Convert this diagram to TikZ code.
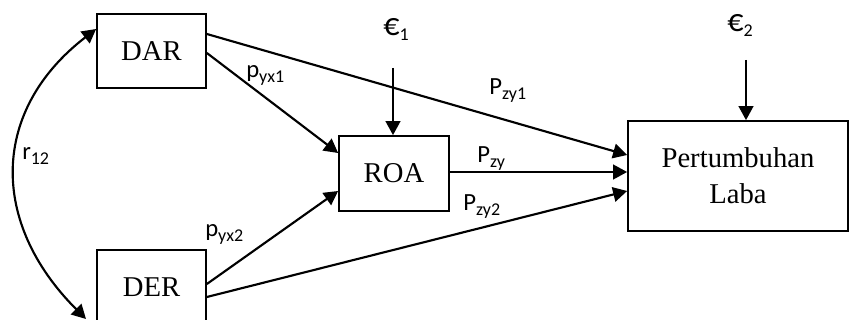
\documentclass[tikz,border=0pt]{standalone}
\usepackage{fontspec}
\setmainfont{Liberation Serif}
\newfontfamily\lblfont{Carlito}
\usetikzlibrary{arrows.meta,calc}
\newcommand{\lsub}[1]{\raisebox{-0.2em}{\fontsize{13.5}{13.5}\selectfont #1}}
\newcommand{\euro}{\scalebox{1.3}{€}}
\tikzset{
  box/.style={draw, line width=1.3pt, rectangle, inner sep=0pt, font=\fontsize{21.5}{27}\selectfont, align=center},
  conn/.style={line width=1.6pt, -{Triangle[length=10.5pt,width=11pt]}},
  lbl/.style={font=\lblfont\fontsize{18.5}{18.5}\selectfont, inner sep=0pt, anchor=base west},
}
\begin{document}
\begin{tikzpicture}[x=0.75pt,y=-0.75pt]
\useasboundingbox (0,0) rectangle (849,320);
\node[box, minimum width=81.75pt, minimum height=55.5pt] (DAR) at (151.5,51) {DAR};
\node[box, minimum width=81.75pt, minimum height=55.5pt] (DER) at (151.5,287) {DER};
\node[box, minimum width=82.5pt, minimum height=56.25pt] (ROA) at (394,173.5) {ROA};
\node[box, minimum width=165pt, minimum height=82.5pt] (PL) at (738,176) {Pertumbuhan\\Laba};

\node[lbl] (e1) at (383,36) {\euro\lsub{1}};
\node[lbl] (e2) at (727,32) {\euro\lsub{2}};
\coordinate (e1s) at (393,68);
\coordinate (e2s) at (746,60);

\draw[conn] (e1s) -- (e1s |- ROA.north);
\draw[conn] (e2s) -- (e2s |- PL.north);

\draw[conn] ($(DAR.east)+(0,-17)$) -- ($(PL.west)+(0,-21)$);
\draw[conn] ($(DAR.east)+(0,2)$) -- ($(ROA.west)+(0,-20.5)$);
\draw[conn] ($(DER.east)+(0,-3)$) -- ($(ROA.west)+(0,17.5)$);
\draw[conn] ($(DER.east)+(0,10)$) -- ($(PL.west)+(0,15)$);
\coordinate (rs) at ($(ROA.east)+(0,-1.5)$);
\draw[conn] (rs) -- (rs -| PL.west);

\coordinate (rend) at (86,319);
\draw[line width=1.6pt, {Triangle[length=10.5pt,width=11pt]}-{Triangle[length=10.5pt,width=11pt]}]
  (rend) .. controls (-11,222) and (-9,110) .. ($(DAR.west)+(0,-22)$);

\node[lbl] (r12) at (22,160) {r\lsub{12}};
\node[lbl] (pyx1) at (246,78) {p\lsub{yx1}};
\node[lbl] (pyx2) at (205,237) {p\lsub{yx2}};
\node[lbl] (pzy1) at (489,95) {P\lsub{zy1}};
\node[lbl] (pzy) at (477,163) {P\lsub{zy}};
\node[lbl] (pzy2) at (463,211) {P\lsub{zy2}};
\end{tikzpicture}
\end{document}
